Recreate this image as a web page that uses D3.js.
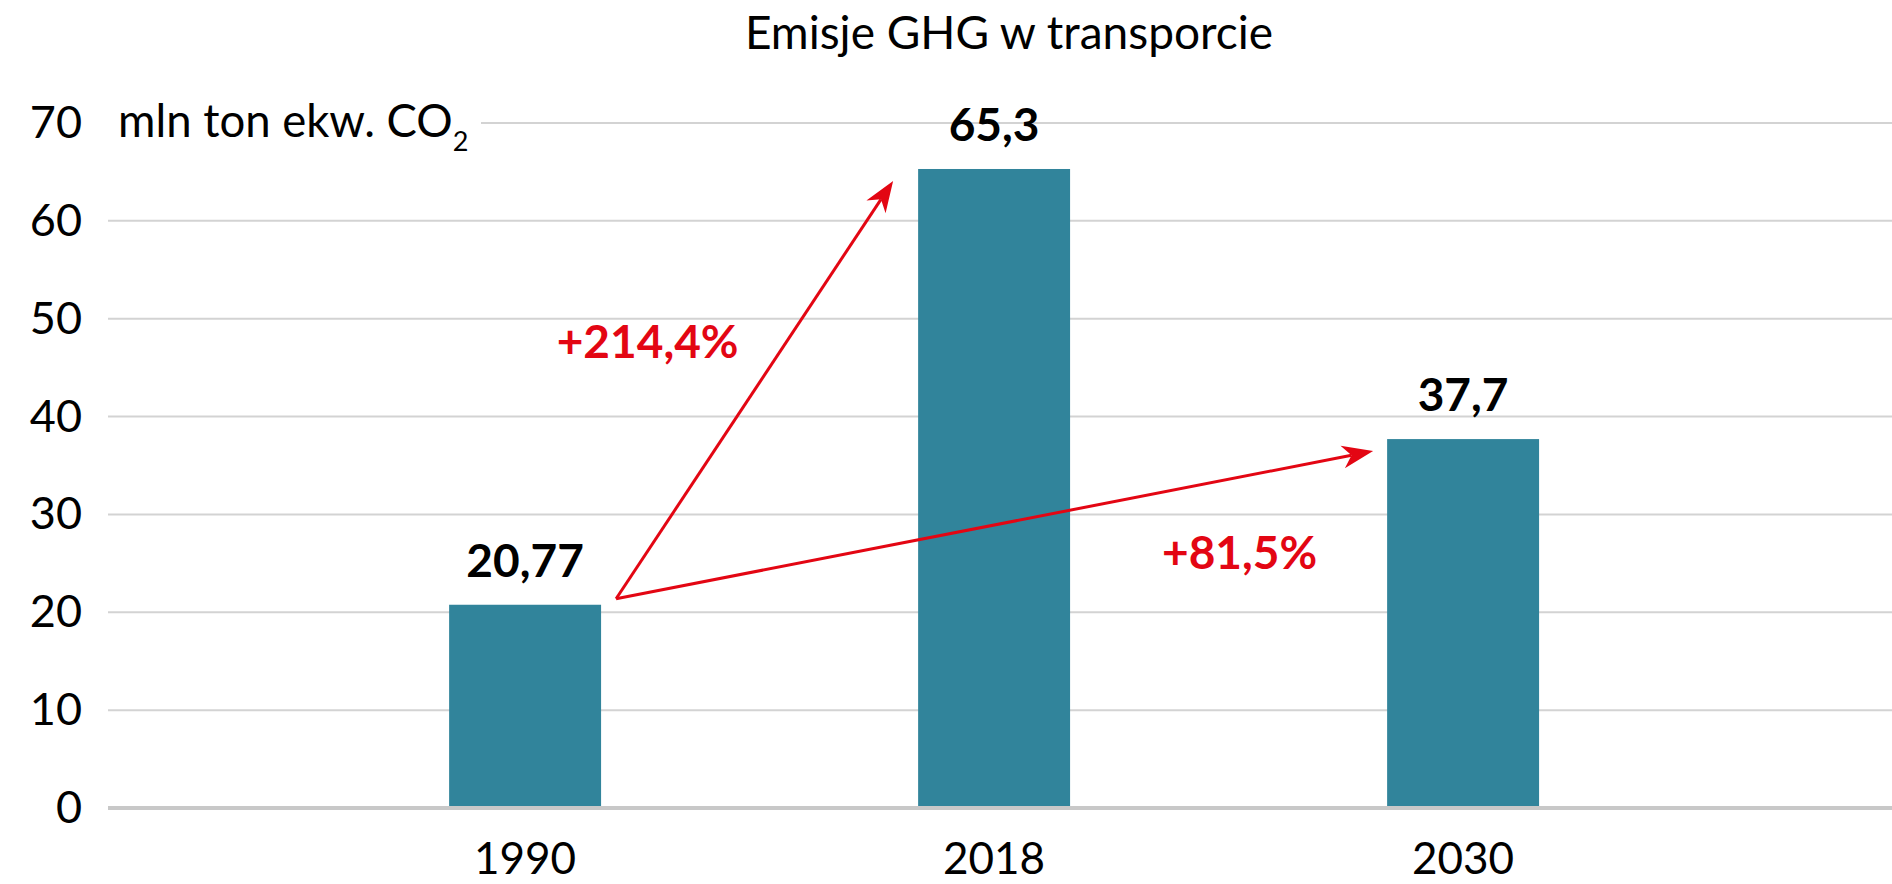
<!DOCTYPE html>
<html><head><meta charset="utf-8">
<script src="https://cdn.jsdelivr.net/npm/d3@7"></script>
<style>html,body{margin:0;padding:0;background:#fff;} svg{display:block;font-family:Lato,sans-serif;}</style>
</head><body>
<svg id="chart" width="1892" height="884"></svg>
<script>
const years = ["1990", "2018", "2030"];
const values = [20.77, 65.3, 37.7];
const yTicks = [0, 10, 20, 30, 40, 50, 60, 70];
const title = "Emisje GHG w transporcie";
const unitLabel = "mln ton ekw. CO";
const unitSub = "2";
// change arrows: from year index -> to year index
const changes = [{from: 0, to: 1}, {from: 0, to: 2}];

const W = 1892, H = 884;
const svg = d3.select("#chart");
const pl = d3.formatLocale({decimal: ",", thousands: " ", grouping: [3], currency: ["", " zł"]});
const fmtVal = pl.format(".4~r");
const fmtPct = pl.format("+.1%");

const x = d3.scaleBand().domain(years).range([290.6, 1697.6]).paddingInner(0.676).paddingOuter(0.338);
const y = d3.scaleLinear().domain([0, 70]).range([808, 123]);
const plotLeft = 108, plotRight = W;
const red = "#e30613";

// gridlines
svg.append("g").selectAll("line").data(yTicks.filter(d => d !== 0)).join("line")
  .attr("x1", plotLeft).attr("x2", plotRight)
  .attr("y1", d => y(d)).attr("y2", d => y(d))
  .attr("stroke", "#d3d3d3").attr("stroke-width", 2);

// unit label background + label
svg.append("rect").attr("x", plotLeft - 4).attr("y", y(70) - 25).attr("width", 377).attr("height", 50).attr("fill", "#fff");
const ut = svg.append("text").attr("x", 118).attr("y", y(70) + 14).attr("font-size", 45.5).attr("fill", "#000");
ut.append("tspan").text(unitLabel);
ut.append("tspan").attr("font-size", 27).attr("dy", 14).text(unitSub);

// y tick labels
svg.append("g").selectAll("text").data(yTicks).join("text")
  .attr("x", 82).attr("y", d => y(d) + 15)
  .attr("text-anchor", "end").attr("font-size", 45).attr("fill", "#000")
  .text(d => d);

// bars
svg.append("g").selectAll("rect").data(values).join("rect")
  .attr("x", (d, i) => x(years[i])).attr("width", x.bandwidth())
  .attr("y", d => y(d)).attr("height", d => y(0) - y(d))
  .attr("fill", "#31849b");

// baseline
svg.append("line").attr("x1", plotLeft).attr("x2", plotRight)
  .attr("y1", y(0)).attr("y2", y(0)).attr("stroke", "#c8c8c8").attr("stroke-width", 4);

// x labels
svg.append("g").selectAll("text").data(years).join("text")
  .attr("x", d => x(d) + x.bandwidth() / 2).attr("y", 874)
  .attr("text-anchor", "middle").attr("font-size", 44).attr("fill", "#000")
  .text(d => d);

// value labels
svg.append("g").selectAll("text").data(values).join("text")
  .attr("x", (d, i) => x(years[i]) + x.bandwidth() / 2).attr("y", d => y(d) - 28)
  .attr("text-anchor", "middle").attr("font-size", 46).attr("font-weight", 700).attr("fill", "#000")
  .text(d => fmtVal(d));

// title
svg.append("text").attr("x", 1009).attr("y", 49).attr("text-anchor", "middle")
  .attr("font-size", 46).attr("fill", "#000").text(title);

// arrows
const tipOffsets = [-25, -14];
const labelOffsets = [[-107, -32], [245, 44]];
changes.forEach((c, k) => {
  const x0 = x(years[c.from]) + x.bandwidth() + 15, y0 = y(values[c.from]) - 6;
  const x1 = x(years[c.to]) + tipOffsets[k], y1 = y(values[c.to]) + 12;
  const ang = Math.atan2(y1 - y0, x1 - x0);
  const L = 31, hw = 11.5, notch = 22;
  const ex = x1 - notch * Math.cos(ang), ey = y1 - notch * Math.sin(ang);
  svg.append("line").attr("x1", x0).attr("y1", y0).attr("x2", ex).attr("y2", ey)
    .attr("stroke", red).attr("stroke-width", 3);
  const deg = ang * 180 / Math.PI;
  svg.append("path").attr("d", `M0,0 L${-L},${-hw} L${-notch},0 L${-L},${hw} Z`)
    .attr("transform", `translate(${x1},${y1}) rotate(${deg})`).attr("fill", red);
  const mx = (x0 + x1) / 2, my = (y0 + y1) / 2;
  svg.append("text").attr("x", mx + labelOffsets[k][0]).attr("y", my + labelOffsets[k][1])
    .attr("text-anchor", "middle").attr("font-size", 46).attr("font-weight", 700).attr("fill", red)
    .text(fmtPct(values[c.to] / values[c.from] - 1));
});
</script>
</body></html>
